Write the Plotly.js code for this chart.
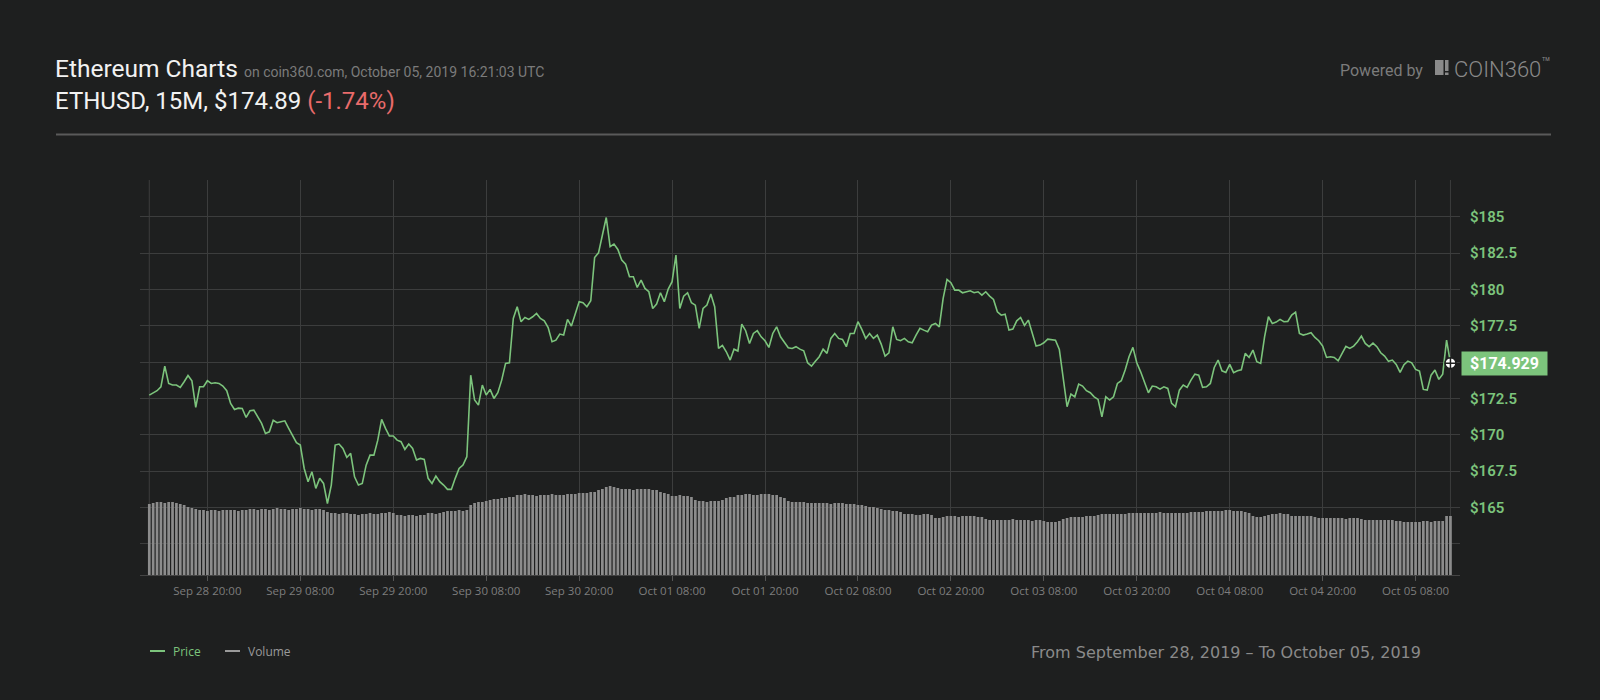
<!DOCTYPE html>
<html>
<head>
<meta charset="utf-8">
<script src="https://cdn.plot.ly/plotly-3.0.1.min.js"></script>
<style>
  html, body { margin: 0; padding: 0; background: #1e1f1f; }
  #chart { width: 1600px; height: 700px; }
</style>
</head>
<body>
<div id="chart"></div>
<script>
// ---- Data (ETHUSD, 30-min samples) ----
const startTime = "2019-09-28 12:30";
const stepMinutes = 30;

const price = [
  172.73, 172.89, 173.03, 173.3, 174.72, 173.53, 173.42, 173.42, 173.26, 173.65,
  174.08, 173.72, 171.88, 173.3, 173.3, 173.72, 173.53, 173.58, 173.53, 173.35,
  173.03, 172.16, 171.74, 171.83, 171.81, 171.19, 171.65, 171.69, 171.19, 170.78,
  170.09, 170.2, 171.0, 170.83, 170.9, 170.96, 170.44, 169.98, 169.45, 169.29,
  167.68, 166.77, 167.45, 166.31, 167.0, 166.65, 165.27, 166.54, 169.29, 169.36,
  169.06, 168.44, 168.72, 167.11, 166.54, 166.65, 167.91, 168.6, 168.6, 169.63,
  171.06, 170.44, 169.91, 169.91, 169.63, 169.52, 168.99, 169.36, 169.06, 168.26,
  168.37, 168.3, 167.0, 166.65, 167.16, 166.77, 166.54, 166.24, 166.24, 167.0,
  167.68, 167.91, 168.49, 174.1, 172.39, 172.04, 173.42, 172.73, 173.12, 172.5,
  172.89, 173.76, 174.91, 174.95, 178.0, 178.81, 177.78, 178.07, 177.94, 178.12,
  178.35, 178.0, 177.84, 177.38, 176.4, 176.51, 176.93, 176.86, 177.94, 177.48,
  178.35, 179.15,
  179.08, 178.81, 179.22, 182.2, 182.52, 183.74, 184.95, 182.94, 183.12, 182.75,
  182.02, 181.74, 180.87, 180.87, 180.14, 180.64, 180.07, 179.84, 178.69, 178.99,
  179.77, 179.15, 180.02, 180.53, 182.36, 178.69, 179.54, 179.77, 179.08, 178.92,
  177.32, 178.69, 178.92, 179.68, 178.81, 175.94, 176.15, 175.71, 175.14, 175.89,
  175.76, 177.61, 177.16, 176.28, 176.97, 177.16, 176.74, 176.47, 176.01, 176.97,
  177.43, 176.74, 176.33, 175.99, 175.94, 176.06, 175.89, 175.78, 174.95, 174.72,
  175.05, 175.37, 175.89, 175.6, 176.63, 176.97, 176.63, 176.56, 176.06, 176.97,
  176.97, 177.78, 177.25, 176.63, 176.97, 176.63, 176.86, 176.24, 175.41, 175.64,
  177.43, 176.56, 176.47, 176.63, 176.4, 176.33, 176.86, 177.32, 177.2, 177.09,
  177.55, 177.66, 177.43, 179.38, 180.69, 180.46, 179.95, 179.95, 179.77, 179.84,
  179.91, 179.77, 179.84, 179.61, 179.84, 179.54, 179.31, 178.46, 178.23, 178.3,
  177.2,
  177.27, 177.84, 178.07, 177.52, 177.89, 176.93, 176.1, 176.17, 176.33, 176.58,
  176.56, 176.51, 175.87, 173.88, 171.93, 172.8, 172.61, 173.49, 173.35, 173.03,
  172.89, 172.61, 172.43, 171.24, 172.61, 172.39, 172.61, 173.53, 173.72, 174.45,
  175.37, 176.01, 174.95, 174.33, 173.53, 172.89, 173.35, 173.3, 173.14, 173.3,
  173.19, 172.16, 171.93, 173.07, 173.42, 173.26, 173.76, 174.17, 174.1, 173.26,
  173.3, 173.53, 174.63, 175.14, 174.4, 174.29, 174.84, 174.27, 174.4, 174.47,
  175.6, 175.32, 175.83, 175.03, 174.91, 176.74, 178.12, 177.66, 177.75, 177.94,
  177.78, 177.8, 178.23, 178.44, 176.97, 176.86, 176.93, 177.02, 176.7, 176.47,
  176.1, 175.32, 175.37, 175.32, 175.09, 175.6, 176.08, 175.94, 176.1, 176.4,
  176.79, 176.28, 176.06, 176.31, 176.06, 175.64, 175.41, 175.05, 175.14, 174.84,
  174.29, 174.82, 175.07, 174.95, 174.5, 174.38, 173.12, 173.07, 174.1, 174.45,
  173.81, 174.17, 176.51, 174.929
];

// relative volume (same 30-min steps)
const volume = [
  71,72,73,73,72,73,73,72,71,70,
  68,67,
  66,65,65,64,65,65,64,65,65,65,65,64,65,65,66,
  66,65,66,66,65,66,67,66,66,65,66,66,
  67,66,66,65,66,66,65,
  63,62,62,61,62,62,
  61,61,60,61,61,62,61,61,
  62,62,63,62,
  60,60,59,60,60,59,60,60,
  62,62,61,62,
  63,64,64,64,65,64,65,
  70,72,73,73,74,
  75,76,76,77,77,78,78,
  80,80,81,80,80,79,80,80,80,81,80,80,80,81,81,81,
  82,82,82,83,83,
  85,86,
  88,89,88,87,
  86,86,86,85,86,86,86,86,85,85,
  83,82,81,
  79,79,80,79,79,78,
  75,74,74,73,74,74,74,75,
  77,78,78,
  80,80,81,81,80,80,81,81,81,80,80,
  78,77,
  74,73,73,73,73,72,72,
  72,72,72,72,71,72,72,72,
  71,71,71,70,70,
  69,68,68,67,66,
  65,65,64,64,63,
  61,61,61,60,60,61,61,60,
  57,57,58,
  59,59,59,58,59,59,59,59,58,58,
  56,55,55,55,55,55,55,56,55,55,55,55,54,55,55,
  54,53,53,53,54,
  56,57,58,58,58,58,59,59,59,
  60,61,61,61,61,61,61,61,62,
  62,62,62,62,62,62,62,63,62,62,62,62,62,62,62,63,63,63,
  63,64,64,64,64,64,65,65,64,64,64,63,62,
  59,58,58,59,
  60,61,61,62,61,61,
  59,59,59,59,59,59,58,
  57,57,57,57,57,57,57,56,57,57,57,
  56,55,55,55,55,55,55,55,55,54,
  54,53,53,53,53,53,54,54,53,54,
  54,54,
  59,59
];

// labelled price ticks ($175 sits under the last-price tag)
const priceTicks = [165, 167.5, 170, 172.5, 177.5, 180, 182.5, 185];
const priceTickText = ["$165", "$167.5", "$170", "$172.5", "$177.5", "$180", "$182.5", "$185"];
const lastPrice = 174.929;

// ---- time axis ----
function fmt(ms) {
  return new Date(ms).toISOString().slice(0, 16).replace("T", " ");
}
const t0 = Date.parse(startTime.replace(" ", "T") + ":00Z");
const times = price.map((_, i) => fmt(t0 + i * stepMinutes * 60000));

// ---- geometry helpers (plot area: x 140..1460, y 180..575) ----
const PL = 140, PW = 1320, PB = 575, PH = 395;
const px = v => (v - PL) / PW;
const py = v => (PB - v) / PH;

const GREEN = "#7cc47c";
const GRID = "#3c3d3d";
const BG = "#1e1f1f";

const traces = [
  {
    type: "bar", x: times, y: volume, yaxis: "y", xaxis: "x",
    marker: { color: "#8c8c8c", line: { width: 0 } },
    hoverinfo: "skip", showlegend: false
  },
  {
    type: "scatter", mode: "lines", x: times, y: price, yaxis: "y2", xaxis: "x",
    line: { color: GREEN, width: 1.6 },
    showlegend: false
  },
  {
    type: "scatter", mode: "markers", x: [times[times.length - 1]], y: [lastPrice], yaxis: "y2",
    marker: { symbol: "circle-cross", size: 11, color: "#ffffff", line: { color: BG, width: 1.5 } },
    showlegend: false, hoverinfo: "skip"
  }
];

const layout = {
  width: 1600, height: 700,
  paper_bgcolor: BG, plot_bgcolor: BG,
  margin: { l: PL, r: 1600 - PL - PW, t: 180, b: 700 - PB, pad: 0 },
  bargap: 0.3,
  showlegend: false,
  xaxis: {
    type: "date",
    range: ["2019-09-28 11:18", "2019-10-05 13:44"],
    tick0: "2019-09-28 20:00", dtick: 12 * 3600 * 1000,
    tickformat: "%b %d %H:%M",
    showgrid: true, gridcolor: GRID, gridwidth: 1,
    ticks: "outside", ticklen: 5, tickcolor: "#555",
    showline: true, linecolor: "#444", linewidth: 1,
    zeroline: false,
    tickfont: { family: "Open Sans", size: 11.5, color: "#7d7d7d" }
  },
  yaxis: {
    range: [0, 395], visible: false, showgrid: false, zeroline: false, fixedrange: true
  },
  yaxis2: {
    overlaying: "y", side: "right",
    range: [160.35, 187.53],
    tickvals: priceTicks, ticktext: priceTickText,
    showgrid: true, gridcolor: GRID, gridwidth: 1,
    minor: { tick0: 160, dtick: 2.5, showgrid: true, gridcolor: GRID, gridwidth: 1, ticks: "" },
    zeroline: false, showline: false, ticks: "",
    ticklabelstandoff: 9,
    tickfont: { family: "Roboto", size: 15, color: GREEN, weight: 600 }
  },
  shapes: [
    // data start / end boundary lines
    { type: "line", xref: "x", yref: "paper", x0: times[0], x1: times[0], y0: 0, y1: 1,
      line: { color: GRID, width: 1 }, layer: "below" },
    { type: "line", xref: "x", yref: "paper", x0: times[times.length - 1], x1: times[times.length - 1], y0: 0, y1: 1,
      line: { color: GRID, width: 1 }, layer: "below" },
    // header divider
    { type: "line", xref: "paper", yref: "paper", x0: px(56), x1: px(1551), y0: py(134.5), y1: py(134.5),
      line: { color: "#5a5a5a", width: 2 } },
    // logo icon
    { type: "rect", xref: "paper", yref: "paper", x0: px(1435), x1: px(1443.5), y0: py(75), y1: py(60),
      fillcolor: "#8a8a8a", line: { width: 0 } },
    { type: "rect", xref: "paper", yref: "paper", x0: px(1445), x1: px(1448.5), y0: py(71), y1: py(60),
      fillcolor: "#8a8a8a", line: { width: 0 } },
    { type: "rect", xref: "paper", yref: "paper", x0: px(1445), x1: px(1448.5), y0: py(75), y1: py(72.5),
      fillcolor: "#8a8a8a", line: { width: 0 } },
    // legend swatches
    { type: "line", xref: "paper", yref: "paper", x0: px(150), x1: px(165), y0: py(651), y1: py(651),
      line: { color: GREEN, width: 2 } },
    { type: "line", xref: "paper", yref: "paper", x0: px(225), x1: px(240), y0: py(651), y1: py(651),
      line: { color: "#9a9a9a", width: 2 } }
  ],
  annotations: [
    { xref: "paper", yref: "paper", x: px(53), y: py(68), xanchor: "left", yanchor: "middle", showarrow: false,
      text: 'Ethereum Charts <span style="font-size:14px;color:#7b7b7b">on coin360.com, October 05, 2019 16:21:03 UTC</span>',
      font: { family: "Roboto", size: 24.5, color: "#f2f2f2" } },
    { xref: "paper", yref: "paper", x: px(53), y: py(101), xanchor: "left", yanchor: "middle", showarrow: false,
      text: 'ETHUSD, 15M, $174.89 <span style="color:#e86b6b">(-1.74%)</span>',
      font: { family: "Roboto", size: 24, color: "#f2f2f2" } },
    { xref: "paper", yref: "paper", x: px(1338), y: py(70.5), xanchor: "left", yanchor: "middle", showarrow: false,
      text: "Powered by", font: { family: "Roboto", size: 16, color: "#7b7b7b" } },
    { xref: "paper", yref: "paper", x: px(1452), y: py(68), xanchor: "left", yanchor: "middle", showarrow: false,
      text: "COIN360<sup>™</sup>", font: { family: "Roboto", size: 22, color: "#8a8a8a", weight: 300 } },
    // price tag
    { xref: "paper", yref: "y2", x: px(1461), y: lastPrice, xanchor: "left", yanchor: "middle", showarrow: false,
      text: "$174.929", bgcolor: GREEN, borderpad: 4, width: 77, height: 15,
      font: { family: "Roboto", size: 16, color: "#ffffff", weight: "bold" } },
    // legend text
    { xref: "paper", yref: "paper", x: px(171), y: py(651), xanchor: "left", yanchor: "middle", showarrow: false,
      text: "Price", font: { family: "Open Sans", size: 12, color: GREEN } },
    { xref: "paper", yref: "paper", x: px(246), y: py(651), xanchor: "left", yanchor: "middle", showarrow: false,
      text: "Volume", font: { family: "Open Sans", size: 12, color: "#9a9a9a" } },
    // date range text
    { xref: "paper", yref: "paper", x: px(1423), y: py(652), xanchor: "right", yanchor: "middle", showarrow: false,
      text: "From September 28, 2019 – To October 05, 2019",
      font: { family: "DejaVu Sans", size: 16, color: "#8a8a8a" } }
  ]
};

Plotly.newPlot("chart", traces, layout, { staticPlot: true, displayModeBar: false });
</script>
</body>
</html>
